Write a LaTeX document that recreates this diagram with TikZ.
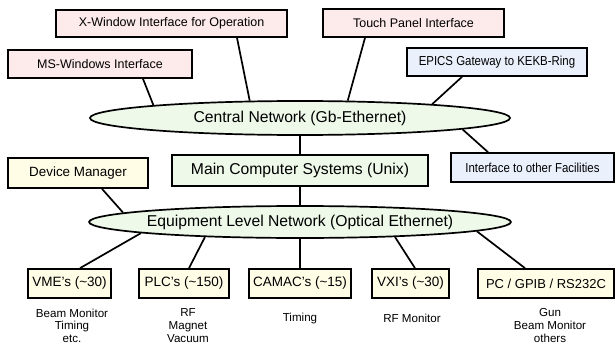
\documentclass[tikz,border=0pt]{standalone}
\usepackage{fontspec}
\setmainfont{Liberation Sans}
\usetikzlibrary{shapes.geometric}
\definecolor{pinkbox}{RGB}{253,234,234}
\definecolor{bluebox}{RGB}{234,241,252}
\definecolor{greenbox}{RGB}{238,249,234}
\definecolor{yellowbox}{RGB}{255,253,230}
\newcommand{\narrow}[1]{\scalebox{0.88}[1]{#1}}

\begin{document}
\begin{tikzpicture}[x=1pt, y=-1pt,
  box/.style={draw, line width=1.7pt, inner sep=0pt, font=\fontsize{12.5}{14}\selectfont},
  net/.style={draw, ellipse, line width=1.7pt, fill=greenbox, inner sep=0pt, inner xsep=-4pt,
    minimum width=420pt, font=\fontsize{15.7}{18}\selectfont},
  link/.style={line width=1.7pt},
  note/.style={align=center, font=\fontsize{11.6}{12.6}\selectfont}]
\useasboundingbox (0,0) rectangle (616,345);

% interfaces
\node[box, fill=pinkbox, minimum width=231pt, minimum height=27pt] (xwin) at (171.5,23.5) {X-Window Interface for Operation};
\node[box, fill=pinkbox, minimum width=184pt, minimum height=28pt] (mswin) at (100,64) {MS-Windows Interface};
\node[box, fill=pinkbox, minimum width=181pt, minimum height=28pt] (touch) at (413.5,23) {Touch Panel Interface};
\node[box, fill=bluebox, minimum width=180pt, minimum height=28pt, font=\fontsize{13}{15}\selectfont] (epics) at (497,62) {\narrow{EPICS Gateway to KEKB-Ring}};

% networks
\node[net, minimum height=34pt] (central) at (300,118) {Central Network (Gb-Ethernet)};
\node[box, fill=greenbox, minimum width=256pt, minimum height=31pt, font=\fontsize{15.7}{18}\selectfont] (main) at (300,170.5) {Main Computer Systems (Unix)};
\node[box, fill=yellowbox, minimum width=140pt, minimum height=30pt, font=\fontsize{13.4}{15}\selectfont] (devman) at (78,173) {Device Manager};
\node[box, fill=bluebox, minimum width=163pt, minimum height=29pt, font=\fontsize{13}{15}\selectfont] (other) at (532.5,167.5) {\narrow{Interface to other Facilities}};
\node[net, minimum height=32pt] (equip) at (300,222) {Equipment Level Network (Optical Ethernet)};

% equipment
\node[box, fill=yellowbox, minimum width=83pt, minimum height=29pt, font=\fontsize{13.5}{15}\selectfont] (vme) at (69.5,283.5) {VME's (\textasciitilde30)};
\node[box, fill=yellowbox, minimum width=90pt, minimum height=29pt, font=\fontsize{13.5}{15}\selectfont] (plc) at (184,283.5) {PLC's (\textasciitilde150)};
\node[box, fill=yellowbox, minimum width=102pt, minimum height=29pt, font=\fontsize{13.5}{15}\selectfont] (camac) at (300,283.5) {CAMAC's (\textasciitilde15)};
\node[box, fill=yellowbox, minimum width=77pt, minimum height=29pt, font=\fontsize{13.5}{15}\selectfont] (vxi) at (410.5,283.5) {VXI's (\textasciitilde30)};
\node[box, fill=yellowbox, minimum width=136pt, minimum height=29pt, font=\fontsize{13}{15}\selectfont] (pc) at (546,283.5) {PC / GPIB / RS232C};

\node[note] (vmenote) at (72,325.5) {Beam Monitor\\Timing\\etc.};
\node[note] (plcnote) at (188,325.5) {RF\\Magnet\\Vacuum};
\node[note] (camacnote) at (300,318) {Timing};
\node[note] (vxinote) at (412,318) {RF Monitor};
\node[note] (pcnote) at (550,325.5) {Gun\\Beam Monitor\\others};

% links
\draw[link] ([xshift=43pt]mswin.south) -- (central.175);
\draw[link] ([xshift=65.5pt]xwin.south) -- (central.161);
\draw[link] ([xshift=-48.5pt]touch.south) -- (central.20);
\draw[link] ([xshift=-35pt]epics.south) -- (central.6);
\draw[link] (central.-4) -- ([xshift=-44.5pt]other.north);
\draw[link] (central.south) -- (main.north);
\draw[link] (main.south) -- (equip.north);
\draw[link] ([xshift=24pt]devman.south) -- (equip.177);
\draw[link] (equip.184) -- ([xshift=10.5pt]vme.north);
\draw[link] (equip.189) -- ([xshift=5pt]plc.north);
\draw[link] (equip.south) -- (camac.north);
\draw[link] (equip.-9) -- ([xshift=4.5pt]vxi.north);
\draw[link] (equip.-3.5) -- ([xshift=-21pt]pc.north);
\end{tikzpicture}
\end{document}
